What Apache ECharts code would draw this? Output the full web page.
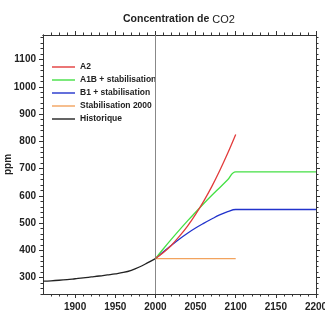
<!DOCTYPE html>
<html>
<head>
<meta charset="utf-8">
<script src="https://cdn.jsdelivr.net/npm/echarts@6/dist/echarts.min.js"></script>
<style>html,body{margin:0;padding:0;background:#fff}#c{width:325px;height:325px}</style>
</head>
<body>
<div id="c"></div>
<script>
// ---- data ----
var histYears  = [1860,1870,1880,1890,1900,1910,1920,1930,1940,1950,1960,1970,1980,1990,2000];
var histValues = [287,288.5,290.5,293,296,299,302.5,306,310,314,319,327,339,354,370];

var a2Years  = [2000,2010,2020,2030,2040,2050,2060,2070,2080,2090,2100];
var a2Values = [370,392,419,452,489,532,580,633,692,756,825];

var a1bYears  = [2000,2010,2020,2030,2040,2050,2060,2070,2080,2090,2100,2200];
var a1bValues = [370,406,441,475,508,540,571,601,630,659,688,688];

var b1Years  = [2000,2010,2020,2030,2040,2050,2060,2070,2080,2090,2100,2200];
var b1Values = [370,395,419,442,463,482,499,515,530,542,550,550];

var stabYears  = [2000,2100];
var stabValues = [370,370];

var seriesNames = ['A2','A1B + stabilisation','B1 + stabilisation','Stabilisation 2000','Historique'];
var seriesColors = ['#e23b3b','#44e044','#2233cc','#f2a35e','#222222'];

var xMajorTicks = [1900,1950,2000,2050,2100,2150,2200];
var xMinorTicks = [1870,1880,1890,1910,1920,1930,1940,1960,1970,1980,1990,2010,2020,2030,2040,2060,2070,2080,2090,2110,2120,2130,2140,2160,2170,2180,2190];
var yMajorTicks = [300,400,500,600,700,800,900,1000,1100];
var yMinorTicks = [];
for (var v = 240; v <= 1180; v += 20) { if (v % 100 !== 0) yMinorTicks.push(v); }

var xMin = 1860, xMax = 2200, yMin = 240, yMax = 1190;
var refYear = 2000;

function pairs(xs, ys) { return xs.map(function (x, i) { return [x, ys[i]]; }); }

var chart = echarts.init(document.getElementById('c'), null, {renderer: 'canvas'});
var axisColor = '#333';
var font = 'Liberation Sans, Arial, sans-serif';
function plain(v) { return String(v); }

function xAx(pos, ticks, len, labels) {
  return {
    type: 'value', position: pos, min: xMin, max: xMax,
    axisLine: {show: true, onZero: false, lineStyle: {color: axisColor, width: 1}},
    axisTick: {show: true, inside: false, length: len, customValues: ticks, lineStyle: {color: axisColor}},
    axisLabel: labels ? {show: true, customValues: ticks, formatter: plain, color: '#222', fontWeight: 'bold', fontSize: 10, fontFamily: font, margin: 8} : {show: false},
    splitLine: {show: false}
  };
}
function yAx(pos, ticks, len, labels) {
  return {
    type: 'value', position: pos, min: yMin, max: yMax,
    axisLine: {show: true, onZero: false, lineStyle: {color: axisColor, width: 1}},
    axisTick: {show: true, inside: false, length: len, customValues: ticks, lineStyle: {color: axisColor}},
    axisLabel: labels ? {show: true, customValues: ticks, formatter: plain, color: '#222', fontWeight: 'bold', fontSize: 10, fontFamily: font, margin: 7} : {show: false},
    splitLine: {show: false},
    name: labels ? 'ppm' : '', nameLocation: 'middle', nameGap: 30, nameRotate: 90, nameMoveOverlap: false,
    nameTextStyle: {color: '#222', fontWeight: 'bold', fontSize: 10, fontFamily: font}
  };
}

function line(name, idx, data, extra) {
  var s = {
    name: name, type: 'line', data: data, symbol: 'none', showSymbol: false, smooth: 0.4,
    xAxisIndex: 0, yAxisIndex: 0,
    lineStyle: {color: seriesColors[idx], width: 1.3},
    itemStyle: {color: seriesColors[idx]},
    z: 8 - idx
  };
  if (extra) for (var k in extra) s[k] = extra[k];
  return s;
}

chart.setOption({
  animation: false,
  backgroundColor: '#fff',
  title: {
    text: '{b|Concentration de }{n|CO2}',
    left: 118, top: 9,
    textStyle: {rich: {
      b: {fontWeight: 'bold', fontSize: 10.5, fontFamily: font, color: '#222'},
      n: {fontWeight: 'normal', fontSize: 11, fontFamily: font, color: '#222'}
    }}
  },
  grid: {left: 43, right: 9, top: 35, bottom: 31, outerBoundsMode: 'none', containLabel: false},
  legend: {
    orient: 'vertical', left: 52, top: 62.5, padding: 0, icon: 'rect', itemWidth: 23, itemHeight: 1.4, itemGap: 4,
    data: seriesNames,
    textStyle: {fontWeight: 'bold', fontSize: 8.5, lineHeight: 8.5, fontFamily: font, color: '#222', padding: [0,0,0,0]}
  },
  xAxis: [
    xAx('bottom', xMajorTicks, 4, true),
    xAx('bottom', xMinorTicks, 2.5, false),
    xAx('top', xMajorTicks, 4, false),
    xAx('top', xMinorTicks, 2.5, false)
  ],
  yAxis: [
    yAx('left', yMajorTicks, 4, true),
    yAx('left', yMinorTicks, 2.5, false),
    yAx('right', yMajorTicks, 4, false),
    yAx('right', yMinorTicks, 2.5, false)
  ],
  series: [
    line(seriesNames[0], 0, pairs(a2Years, a2Values)),
    line(seriesNames[1], 1, pairs(a1bYears, a1bValues)),
    line(seriesNames[2], 2, pairs(b1Years, b1Values)),
    line(seriesNames[3], 3, pairs(stabYears, stabValues), {smooth: false}),
    line(seriesNames[4], 4, pairs(histYears, histValues), {
      markLine: {
        silent: true, symbol: 'none', label: {show: false},
        lineStyle: {color: '#888', width: 1, type: 'solid'},
        data: [{xAxis: refYear}]
      }
    })
  ]
});
</script>
</body>
</html>
